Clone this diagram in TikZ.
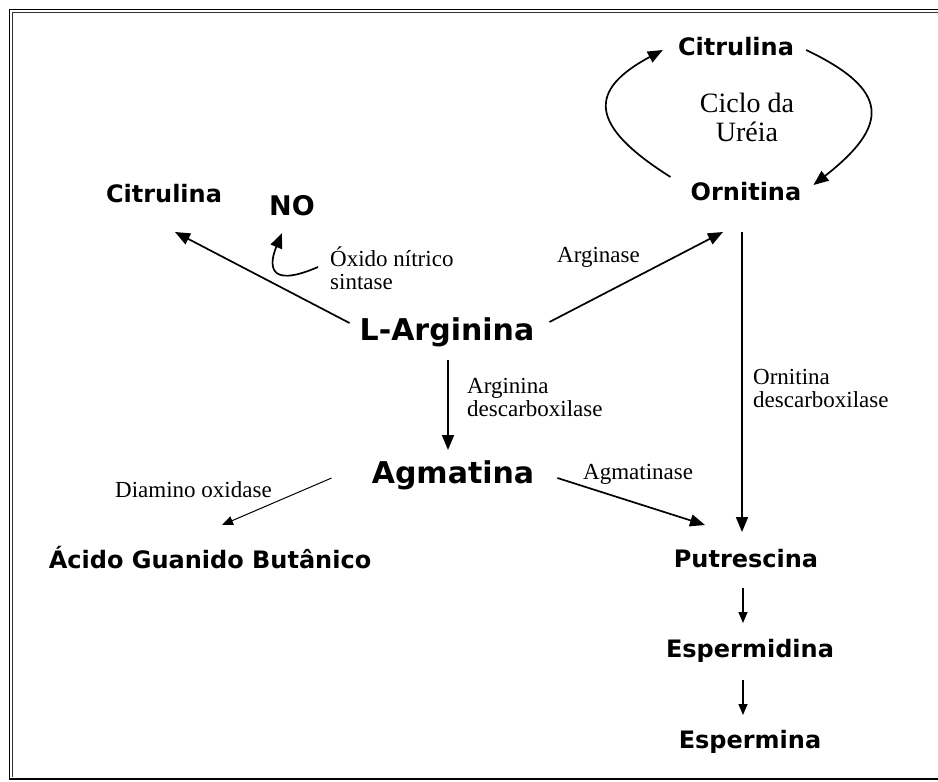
\documentclass[tikz,border=0pt]{standalone}
\usepackage{fontspec}
\setmainfont{Liberation Serif}
\newfontfamily\compfont{DejaVu Sans}
\usetikzlibrary{arrows.meta,calc}

\begin{document}
\begin{tikzpicture}[x=1pt, y=-1pt, >={Triangle[length=15pt,width=12pt]},
  compound/.style={font=\compfont\bfseries\fontsize{24}{28}\selectfont, inner sep=0pt, anchor=base},
  major/.style={compound, font=\compfont\bfseries\fontsize{30}{34}\selectfont},
  enzyme/.style={font=\fontsize{23}{23}\selectfont, align=left, inner sep=0pt, anchor=west},
  reaction/.style={->, line width=1.7pt},
  minor/.style={-{Triangle[length=11pt,width=9pt]}, line width=1pt}]
  \useasboundingbox (0,0) rectangle (938,782);

  % frame
  \draw[line width=1.6pt] (938,9.5) -- (9.5,9.5) -- (9.5,779);
  \draw[line width=1.1pt, black!80] (938,12.8) -- (12.8,12.8) -- (12.8,777);
  \draw[line width=2.5pt] (8.5,779) -- (938,779);

  \node[compound] (citA) at (736,55) {Citrulina};
  \node[compound] (orn) at (746,200) {Ornitina};
  \node[compound] (citB) at (164,202) {Citrulina};
  \node[compound, font=\compfont\bfseries\fontsize{27}{30}\selectfont] (no) at (292,215) {NO};
  \node[major] (arg) at (447,340) {L-Arginina};
  \node[major] (agm) at (453,483) {Agmatina};
  \node[compound] (acido) at (210,568) {Ácido Guanido Butânico};
  \node[compound] (put) at (746,567) {Putrescina};
  \node[compound] (spd) at (750,657) {Espermidina};
  \node[compound] (spm) at (750,748) {Espermina};

  \node[enzyme, font=\fontsize{28}{29}\selectfont, align=center, anchor=center] (ciclo) at (747,117) {Ciclo da\\Uréia};
  \node[enzyme] (nos) at (330,268) {Óxido nítrico\\sintase};
  \node[enzyme] (arginase) at (557,257) {Arginase};
  \node[enzyme] (odc) at (753,388) {Ornitina\\descarboxilase};
  \node[enzyme] (adc) at (467,397) {Arginina\\descarboxilase};
  \node[enzyme] (agmatinase) at (583,474) {Agmatinase};
  \node[enzyme] (dao) at (115,490) {Diamino oxidase};

  % ureia cycle
  \draw[reaction] ($(orn.base west)+(-20,-23)$) .. controls (588,125) and (588,90) .. ($(citA.base west)+(-15,-5)$);
  \draw[reaction] ($(citA.base east)+(12,-5)$) .. controls (890,90) and (890,125) .. ($(orn.base east)+(12,-15)$);

  \draw[reaction] ($(arg.base west)+(-10,-17)$) -- ($(citB.base)+(11,30)$);
  \draw[reaction] ($(nos.west)+(-12,-1)$) .. controls (265,290) and (270,262) .. ($(no.base)+(-10,18)$);
  \draw[reaction] ($(arg.base east)+(15,-18)$) -- ($(orn.base)+(-23,32)$);
  \draw[reaction] ($(arg.base)+(1,20)$) -- ($(agm.base)+(-5,-33)$);
  \draw[reaction] ($(orn.base)+(-4,32)$) -- ($(put.base)+(-4,-35)$);
  \draw[reaction] ($(agm.base east)+(23,-5)$) -- ($(put.base)+(-41,-42)$);
  \draw[minor] ($(agm.base west)+(-40,-5)$) -- ($(acido.base)+(12,-43)$);
  \draw[minor, line width=1.4pt] ($(put.base)+(-3,21)$) -- ($(spd.base)+(-7,-34)$);
  \draw[minor, line width=1.4pt] ($(spd.base)+(-7,23)$) -- ($(spm.base)+(-7,-33)$);
\end{tikzpicture}
\end{document}
